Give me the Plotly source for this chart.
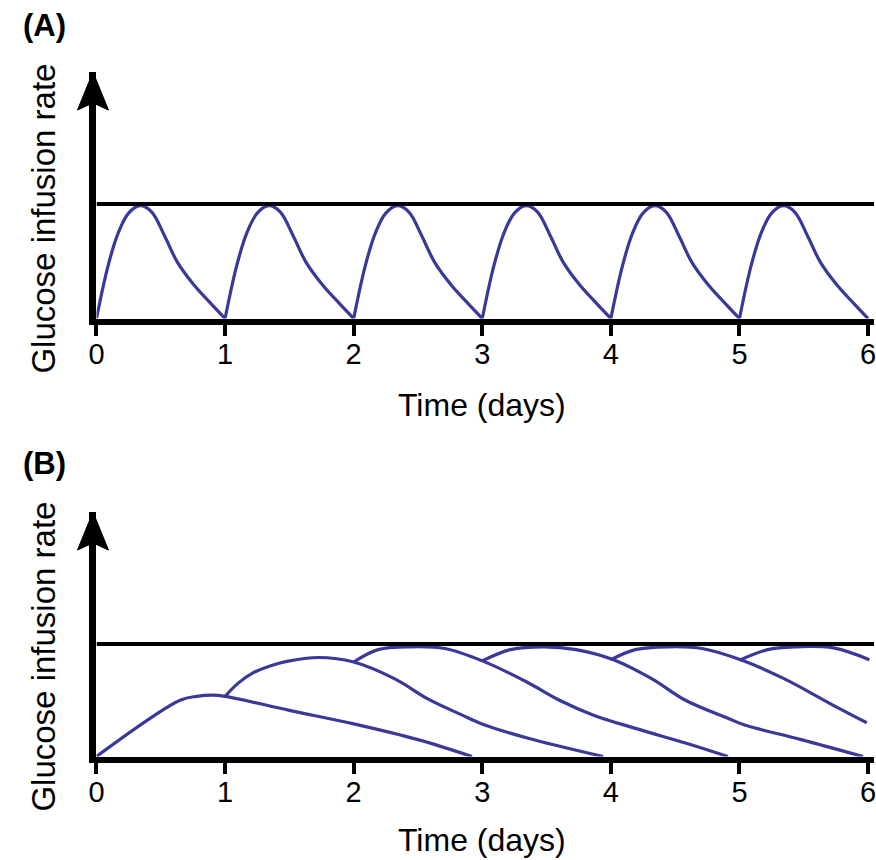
import plotly.graph_objects as go

# ---------------- data ----------------
days = [0, 1, 2, 3, 4, 5, 6]
tick_labels = ["0", "1", "2", "3", "4", "5", "6"]
max_rate = 1.0

# Panel A: one daily dose profile (phase within the day, relative rate)
cycle_phase = [0.0, 0.09, 0.17, 0.25, 0.34, 0.43, 0.53, 0.63, 0.76, 0.89, 1.0]
cycle_value = [0.0, 0.46, 0.75, 0.92, 0.985, 0.93, 0.72, 0.49, 0.29, 0.13, 0.0]
dose_days_a = [0, 1, 2, 3, 4, 5]

# Panel B: one curve per dose
b_t0 = [0, 0.65, 0.78, 0.9, 1.0, 1.5, 2.0, 2.5, 2.92]
b_y0 = [0, 0.50, 0.535, 0.545, 0.535, 0.41, 0.29, 0.15, 0.0]
b_t1 = [1.0, 1.1, 1.22, 1.35, 1.48, 1.73, 2.0, 2.32, 2.58, 2.84, 3.02, 3.35, 3.94]
b_y1 = [0.535, 0.65, 0.745, 0.805, 0.846, 0.88, 0.84, 0.69, 0.51, 0.37, 0.28, 0.165, 0.0]
b_t2 = [2.0, 2.19, 2.45, 2.71, 3.0, 3.35, 3.6, 3.86, 4.19, 4.58, 4.91]
b_y2 = [0.84, 0.95, 0.975, 0.96, 0.85, 0.66, 0.50, 0.37, 0.25, 0.12, 0.0]
b_t3 = [3.0, 3.22, 3.48, 3.73, 4.02, 4.32, 4.58, 4.91, 5.04, 5.48, 5.96]
b_y3 = [0.85, 0.95, 0.975, 0.95, 0.86, 0.69, 0.50, 0.34, 0.28, 0.15, 0.0]
b_t4 = [4.0, 4.19, 4.45, 4.71, 5.02, 5.35, 5.73, 5.99]
b_y4 = [0.86, 0.95, 0.975, 0.96, 0.855, 0.69, 0.455, 0.30]
b_t5 = [5.0, 5.22, 5.43, 5.73, 6.01]
b_y5 = [0.855, 0.95, 0.975, 0.965, 0.86]

# ---------------- style / layout ----------------
W, H = 876, 860
CURVE = "#3a3898"
FONT = "Liberation Sans, Arial, sans-serif"
left_px = 89.5
px_per_day = (870 - left_px) / 6
X_MAX = (W - left_px) / px_per_day
x_dom = [left_px / W, 1.0]
# panel A: baseline (domain bottom) 318.5 px, max line 204 px, arrow tip 72 px
a_dom = [1 - 318.5 / H, 1 - 72 / H]
Y_MAX_A = (318.5 - 72) / (318.5 - 204)
# panel B: baseline 756.5 px, max line 644 px, arrow tip 512 px
b_dom = [1 - 756.5 / H, 1 - 512 / H]
Y_MAX_B = (756.5 - 512) / (756.5 - 644)

fig = go.Figure()

for d in dose_days_a:
    fig.add_trace(go.Scatter(x=[d + p for p in cycle_phase], y=cycle_value,
                             mode="lines", line=dict(color=CURVE, width=3.2, shape="spline", smoothing=1.0),
                             xaxis="x", yaxis="y", showlegend=False, hoverinfo="skip"))
fig.add_trace(go.Scatter(x=[0, X_MAX], y=[max_rate, max_rate], mode="lines",
                         line=dict(color="black", width=4), xaxis="x", yaxis="y",
                         showlegend=False, hoverinfo="skip"))

for t, y in [(b_t0, b_y0), (b_t1, b_y1), (b_t2, b_y2), (b_t3, b_y3), (b_t4, b_y4), (b_t5, b_y5)]:
    fig.add_trace(go.Scatter(x=t, y=y, mode="lines",
                             line=dict(color=CURVE, width=3.2, shape="spline", smoothing=1.0),
                             xaxis="x2", yaxis="y2", showlegend=False, hoverinfo="skip"))
fig.add_trace(go.Scatter(x=[0, X_MAX], y=[max_rate, max_rate], mode="lines",
                         line=dict(color="black", width=4), xaxis="x2", yaxis="y2",
                         showlegend=False, hoverinfo="skip"))

xax = dict(range=[0, X_MAX], domain=x_dom, showgrid=False, zeroline=False,
           showline=True, linecolor="black", linewidth=6,
           ticks="outside", ticklen=11, tickwidth=4, tickcolor="black",
           tickvals=days, ticktext=tick_labels, ticklabeloverflow="allow",
           ticklabelstandoff=-6,
           tickfont=dict(family=FONT, size=29, color="black"), fixedrange=True)
yax = dict(showgrid=False, zeroline=False, showticklabels=False,
           showline=True, linecolor="black", linewidth=7, ticks="", fixedrange=True)

fig.update_layout(
    width=W, height=H, margin=dict(l=0, r=0, t=0, b=0),
    paper_bgcolor="white", plot_bgcolor="white",
    xaxis=dict(xax, anchor="y"),
    yaxis=dict(yax, range=[0, Y_MAX_A], domain=a_dom, anchor="x"),
    xaxis2=dict(xax, anchor="y2"),
    yaxis2=dict(yax, range=[0, Y_MAX_B], domain=b_dom, anchor="x2"),
)

# arrowheads on the y axes
for top in [a_dom[1], b_dom[1]]:
    fig.add_shape(type="path", xref="paper", yref="paper",
                  xsizemode="pixel", ysizemode="pixel",
                  xanchor=left_px / W, yanchor=top,
                  path="M-3.5,0 L-19,-38 L-3.5,-31 L12,-38 Z",
                  fillcolor="black", line=dict(color="black", width=1))

def ann(text, x, y, size, bold=False, angle=0, xanchor="center"):
    fig.add_annotation(text=f"<b>{text}</b>" if bold else text, x=x, y=y,
                       xref="paper", yref="paper", showarrow=False, textangle=angle,
                       xanchor=xanchor, yanchor="middle",
                       font=dict(family=FONT, size=size, color="black"))

ann("(A)", 13 / W, 1 - 26 / H, 31, bold=True, xanchor="left")
ann("(B)", 13 / W, 1 - 463 / H, 31, bold=True, xanchor="left")
ann("Glucose infusion rate", 35 / W, 1 - 219 / H, 33, angle=-90)
ann("Glucose infusion rate", 35 / W, 1 - 657 / H, 33, angle=-90)
ann("Time (days)", 479 / W, 1 - 405 / H, 32)
ann("Time (days)", 479 / W, 1 - 840 / H, 32)

fig.write_html("out.html", config={"displayModeBar": False},
               post_script="document.body.style.margin='0';document.body.style.overflow='hidden';")
